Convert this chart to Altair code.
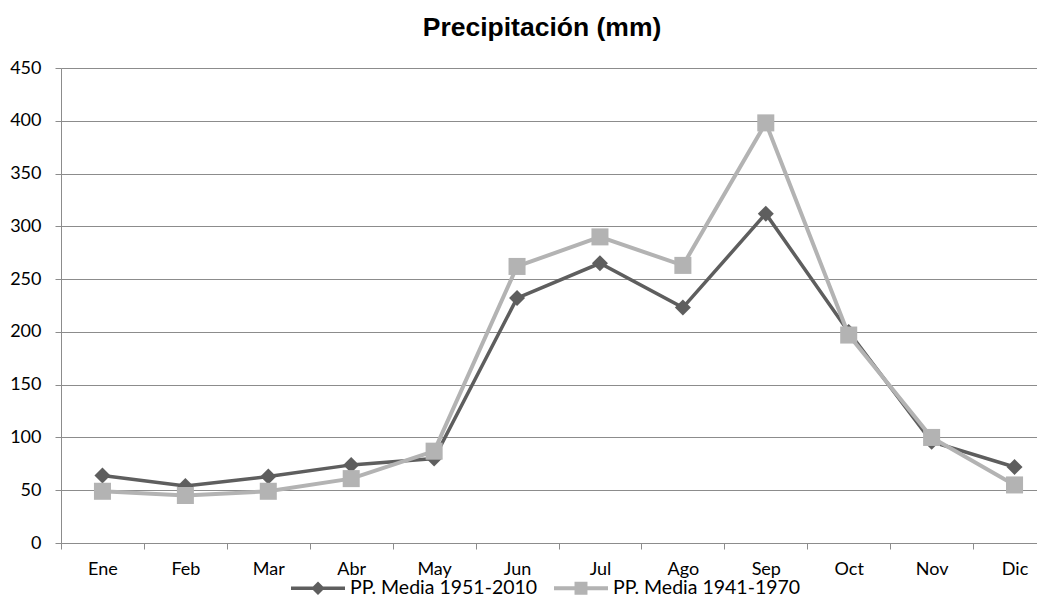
import altair as alt
import pandas as pd

months = ["Ene", "Feb", "Mar", "Abr", "May", "Jun", "Jul", "Ago", "Sep", "Oct", "Nov", "Dic"]
serie_1951 = [64, 54, 63, 74, 80, 232, 265, 223, 312, 200, 96, 72]
serie_1941 = [49, 45, 49, 61, 87, 262, 290, 263, 398, 197, 100, 55]
series_names = ["PP. Media 1951-2010", "PP. Media 1941-1970"]
series_colors = ["#5e5e5e", "#b3b3b3"]
y_ticks = [0, 50, 100, 150, 200, 250, 300, 350, 400, 450]

rows = []
for name, vals in zip(series_names, [serie_1951, serie_1941]):
    for m, v in zip(months, vals):
        rows.append({"mes": m, "pp": v, "serie": name})
df = pd.DataFrame(rows)

FONT = "Lato"
GRID = "#8c8c8c"

x_enc = alt.X(
    "mes:N", sort=months, bandPosition=0.5,
    scale=alt.Scale(type="band", paddingInner=0, paddingOuter=0, range=[0, 995]),
    axis=alt.Axis(title=None, labelAngle=0, tickBand="extent", tickSize=6,
                  tickColor=GRID, domainColor=GRID, labelFont=FONT,
                  labelFontSize=18, labelColor="#000000", labelPadding=11,
                  grid=False),
)
y_enc = alt.Y(
    "pp:Q",
    scale=alt.Scale(domain=[0, 450], nice=False),
    axis=alt.Axis(title=None, values=y_ticks, tickSize=6, tickColor=GRID,
                  domainColor=GRID, gridColor=GRID, gridWidth=1, grid=True,
                  labelFont=FONT, labelFontSize=18, labelColor="#000000",
                  labelPadding=14),
)

base = alt.Chart(df)

layers = []
shapes = ["diamond", "square"]
sizes = [256, 290]
widths = [3.5, 4]
for name, col, shp, sz, w in zip(series_names, series_colors, shapes, sizes, widths):
    sub = base.transform_filter(alt.datum.serie == name)
    layers.append(sub.mark_line(color=col, strokeWidth=w).encode(x=x_enc, y=y_enc))
    layers.append(sub.mark_point(shape=shp, filled=True, color=col, size=sz, opacity=1).encode(x=x_enc, y=y_enc))

legend_paths = [
    "M-1,-0.065L1,-0.065L1,0.065L-1,0.065Z M0,-0.25L0.25,0L0,0.25L-0.25,0Z",
    "M-1,-0.07L1,-0.07L1,0.07L-1,0.07Z M-0.24,-0.24L0.24,-0.24L0.24,0.24L-0.24,0.24Z",
]
# legend-only layer: no rows are drawn, the legend comes from the scale domain
legend_layer = base.transform_filter(alt.datum.pp < 0).mark_point(filled=True, opacity=1).encode(
    x=x_enc, y=y_enc,
    color=alt.Color("serie:N", sort=series_names,
                    scale=alt.Scale(domain=series_names, range=series_colors),
                    legend=alt.Legend(title=None, orient="none", legendX=230, legendY=493,
                                      direction="horizontal", symbolSize=2916,
                                      symbolOpacity=1, symbolStrokeWidth=0,
                                      labelFont=FONT, labelFontSize=19.5,
                                      labelColor="#000000", labelOffset=5,
                                      labelLimit=400, columnPadding=16)),
    shape=alt.Shape("serie:N", sort=series_names,
                    scale=alt.Scale(domain=series_names, range=legend_paths)),
)

chart = alt.layer(*layers, legend_layer).properties(
    width=976, height=475,
    title=alt.Title("Precipitación (mm)", font="Liberation Sans", fontSize=26.5,
                    fontWeight="bold", color="#000000", dx=-7, offset=18),
    autosize=alt.AutoSizeParams(type="none"),
    padding={"left": 53, "top": 60, "right": 0, "bottom": 53},
).configure_view(stroke=None).configure(background="white")

chart.save("out.html", embed_options={"renderer": "svg", "actions": False})
